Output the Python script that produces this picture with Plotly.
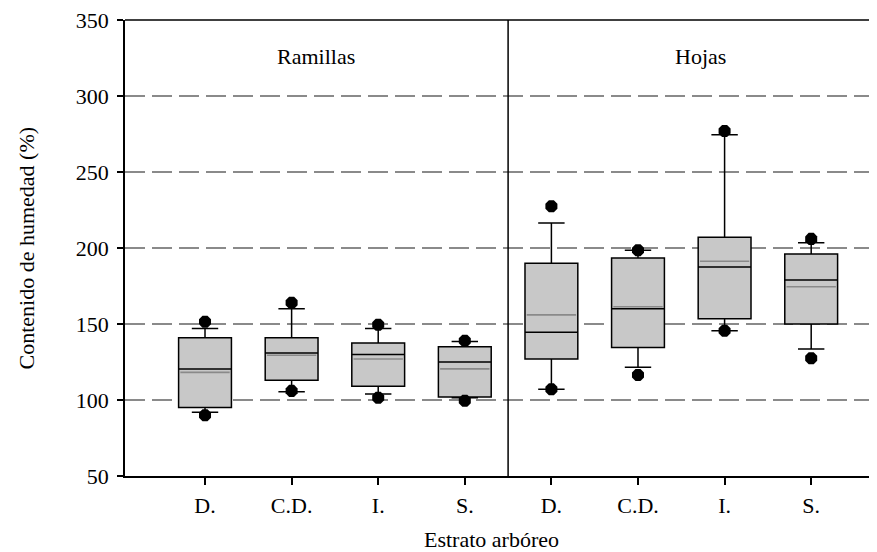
import plotly.graph_objects as go

categories = ["D.", "C.D.", "I.", "S.", "D.", "C.D.", "I.", "S."]
panels = ["Ramillas", "Hojas"]
q1 = [95, 113, 109, 102, 127, 134.5, 153.5, 150]
median = [120.4, 131, 130, 125, 144.5, 160, 187.5, 179]
q3 = [141, 141, 137.5, 135, 190, 193.5, 207, 196]
mean = [118.2, 129.4, 127, 120.5, 156, 161.3, 191.3, 174.5]
whisker_low = [92, 105.5, 104, 101.5, 107, 121.5, 145.5, 133.5]
whisker_high = [147, 160, 147, 138.5, 216.5, 198.5, 274.5, 203.5]
outlier_low = [90, 106, 101.5, 99.5, 107, 116.5, 145.5, 127.5]
outlier_high = [151.5, 164, 149.5, 139, 227.5, 198.5, 277, 206]
y_ticks = [50, 100, 150, 200, 250, 300, 350]

FONT = "Liberation Serif"
pos = list(range(len(categories)))
box_w = 0.61

fig = go.Figure()
fig.add_trace(go.Box(
    x=pos, q1=q1, median=median, q3=q3,
    lowerfence=whisker_low, upperfence=whisker_high,
    width=box_w, whiskerwidth=0.5, boxpoints=False,
    fillcolor="#c8c8c8", line=dict(color="black", width=1.5),
    showlegend=False, hoverinfo="skip"))

mx, my = [], []
for p, m in zip(pos, mean):
    mx += [p - box_w / 2 + 0.02, p + box_w / 2 - 0.02, None]
    my += [m, m, None]
fig.add_trace(go.Scatter(x=mx, y=my, mode="lines",
                         line=dict(color="#8a8a8a", width=1.6),
                         showlegend=False, hoverinfo="skip"))

fig.add_trace(go.Scatter(x=pos + pos, y=outlier_low + outlier_high, mode="markers",
                         marker=dict(symbol="octagon", size=13, color="black"),
                         showlegend=False, hoverinfo="skip"))

fig.add_shape(type="line", xref="x", yref="paper", x0=3.5, x1=3.5, y0=0, y1=1,
              line=dict(color="black", width=1.5))
fig.add_shape(type="line", xref="paper", yref="paper", x0=0, x1=1, y0=1, y1=1,
              line=dict(color="black", width=1.5))

for xa, name in zip([1.28, 5.72], panels):
    fig.add_annotation(x=xa, y=326, xref="x", yref="y", text=name,
                       showarrow=False, yanchor="middle",
                       font=dict(family=FONT, size=22, color="black"))

fig.add_annotation(x=-0.131, y=0.5, xref="paper", yref="paper", textangle=-90,
                   text="Contenido de humedad (%)", showarrow=False,
                   xanchor="center", yanchor="middle",
                   font=dict(family=FONT, size=22, color="black"))
fig.add_annotation(x=0.487, y=-0.140, xref="paper", yref="paper",
                   text="Estrato arbóreo", showarrow=False,
                   xanchor="center", yanchor="middle",
                   font=dict(family=FONT, size=22, color="black"))

fig.update_layout(
    width=869, height=544,
    margin=dict(l=117, r=0, t=12, b=76),
    paper_bgcolor="white", plot_bgcolor="white",
    font=dict(family=FONT, size=22, color="black"),
    xaxis=dict(range=[-0.924, 7.76], tickmode="array", tickvals=pos, ticktext=categories,
               showgrid=False, zeroline=False, showline=True, linecolor="black", linewidth=1.5,
               ticks="outside", ticklen=7, tickcolor="black", tickwidth=1.5,
               ticklabelstandoff=2, automargin=False,
               tickfont=dict(family=FONT, size=22, color="black")),
    yaxis=dict(range=[50, 350], tickmode="array", tickvals=y_ticks,
               showgrid=True, gridcolor="#8a8a8a", gridwidth=1.5, griddash="20px,7px",
               zeroline=False, showline=True, linecolor="black", linewidth=1.5,
               ticks="outside", ticklen=6, tickcolor="black", tickwidth=1.5,
               ticklabelstandoff=4, automargin=False, ticklabeloverflow="allow",
               tickfont=dict(family=FONT, size=22, color="black")),
)

fig.write_html("out.html")
